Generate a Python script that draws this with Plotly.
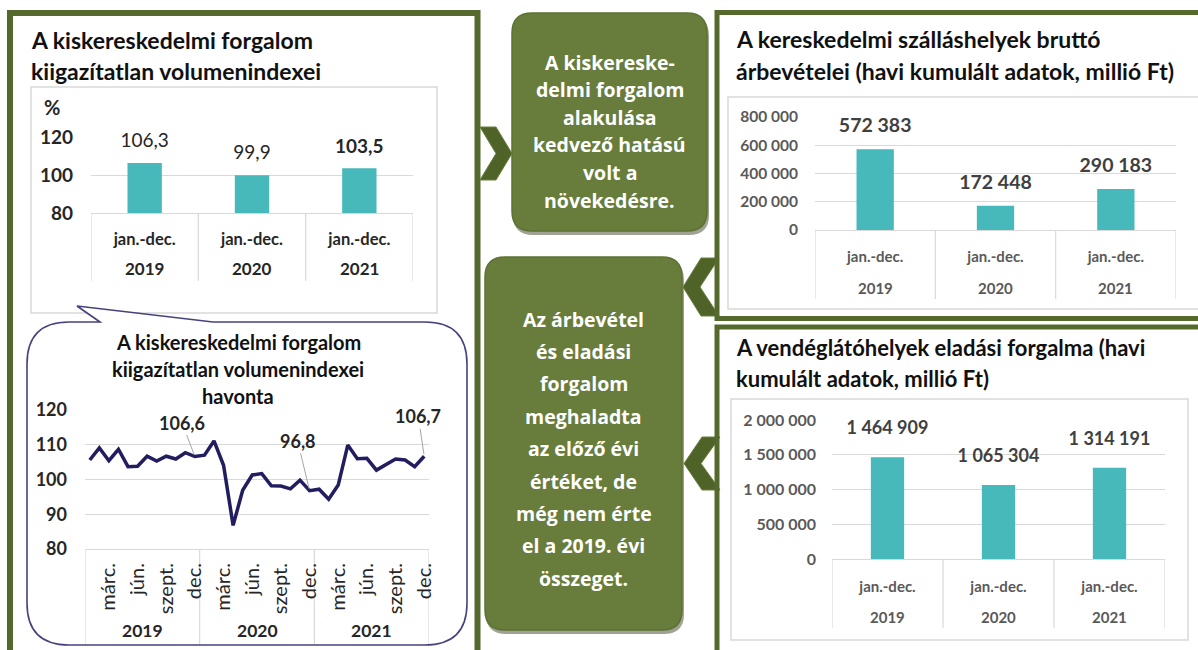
import plotly.graph_objects as go

W, H = 1198, 650

# ---------------- data ----------------
years = ["2019", "2020", "2021"]
period_label = "jan.-dec."
retail_yearly = [106.3, 99.9, 103.5]
retail_yearly_bold = [False, False, True]

month_names = ["márc.", "jún.", "szept.", "dec."]
month_numbers = [3, 6, 9, 12]
retail_2019 = [105.6, 109.1, 105.4, 108.7, 103.7, 103.8, 106.7, 105.3, 106.7, 105.9, 107.7, 106.6]
retail_2020 = [107.0, 111.1, 104.1, 86.8, 96.9, 101.3, 101.7, 98.2, 98.1, 97.3, 99.8, 96.8]
retail_2021 = [97.2, 94.3, 98.4, 109.9, 106.0, 106.1, 102.7, 104.4, 105.9, 105.6, 103.7, 106.7]
labelled_months = [("2019", 12), ("2020", 12), ("2021", 12)]

accommodation = [572383, 172448, 290183]
catering = [1464909, 1065304, 1314191]

title_retail = ["A kiskereskedelmi forgalom", "kiigazítatlan volumenindexei"]
title_monthly = ["A kiskereskedelmi forgalom", "kiigazítatlan volumenindexei", "havonta"]
title_accom = ["A kereskedelmi szálláshelyek bruttó", "árbevételei (havi kumulált adatok, millió Ft)"]
title_catering = ["A vendéglátóhelyek eladási forgalma (havi", "kumulált adatok, millió Ft)"]
box1_lines = ["A kiskereske-", "delmi forgalom", "alakulása", "kedvező hatású", "volt a", "növekedésre."]
box2_lines = ["Az árbevétel", "és eladási", "forgalom", "meghaladta", "az előző évi",
              "értéket, de", "még nem érte", "el a 2019. évi", "összeget."]

# ---------------- style ----------------
GREEN = "#55692c"
BOXFILL = "#687c3c"
TEAL = "#48b9ba"
GRID = "#d9d9d9"
DARK = "#262626"
GRAY = "#595959"
NAVY = "#221d5e"
BUBBLE = "#45427f"
FONT = "Lato, sans-serif"
BOXFONT = "Open Sans, sans-serif"


def px(x):
    return x / W


def py(y):
    return 1 - y / H


def dom_x(a, b):
    return [a / W, b / W]


def dom_y(top, bottom):
    return [1 - bottom / H, 1 - top / H]


def fmt1(v):
    return f"{v:.1f}".replace(".", ",")


def poly_path(pts):
    s = "M " + " L ".join(f"{px(x)},{py(y)}" for x, y in pts)
    return s + " Z"


def rrect_path(x0, y0, x1, y1, r):
    return (f"M {px(x0 + r)},{py(y0)} L {px(x1 - r)},{py(y0)} "
            f"Q {px(x1)},{py(y0)} {px(x1)},{py(y0 + r)} L {px(x1)},{py(y1 - r)} "
            f"Q {px(x1)},{py(y1)} {px(x1 - r)},{py(y1)} L {px(x0 + r)},{py(y1)} "
            f"Q {px(x0)},{py(y1)} {px(x0)},{py(y1 - r)} L {px(x0)},{py(y0 + r)} "
            f"Q {px(x0)},{py(y0)} {px(x0 + r)},{py(y0)} Z")


def bubble_path(x0, y0, x1, y1, r, tail_a, tip, tail_b):
    return (f"M {px(tail_a)},{py(y0)} L {px(tip[0])},{py(tip[1])} L {px(tail_b)},{py(y0)} "
            f"L {px(x1 - r)},{py(y0)} Q {px(x1)},{py(y0)} {px(x1)},{py(y0 + r)} "
            f"L {px(x1)},{py(y1 - r)} Q {px(x1)},{py(y1)} {px(x1 - r)},{py(y1)} "
            f"L {px(x0 + r)},{py(y1)} Q {px(x0)},{py(y1)} {px(x0)},{py(y1 - r)} "
            f"L {px(x0)},{py(y0 + r)} Q {px(x0)},{py(y0)} {px(x0 + r)},{py(y0)} Z")


fig = go.Figure()
idx = list(range(len(years)))

# ---------------- chart 1: yearly retail index ----------------
fig.add_trace(go.Bar(x=idx, y=retail_yearly, width=0.32, marker=dict(color=TEAL, line=dict(width=0)),
                     xaxis="x2", yaxis="y2", hoverinfo="skip"))
fig.add_trace(go.Scatter(
    x=idx, y=retail_yearly, mode="markers+text",
    marker=dict(size=16, color="rgba(0,0,0,0)"),
    text=[(f"<b>{fmt1(v)}</b>" if b else fmt1(v)) for v, b in zip(retail_yearly, retail_yearly_bold)],
    textposition="top center", textfont=dict(family=FONT, size=19, color=DARK),
    cliponaxis=False, xaxis="x2", yaxis="y2", hoverinfo="skip"))

# ---------------- chart 2: monthly retail index ----------------
monthly = retail_2019 + retail_2020 + retail_2021
mx = list(range(len(monthly)))
fig.add_trace(go.Scatter(x=mx, y=monthly, mode="lines", line=dict(color=NAVY, width=3.5),
                         xaxis="x3", yaxis="y3", hoverinfo="skip"))
month_tickvals = [yi * 12 + m - 1 for yi in range(len(years)) for m in month_numbers]
month_ticktext = month_names * len(years)

# ---------------- chart 3: accommodation ----------------
fig.add_trace(go.Bar(x=idx, y=accommodation, width=0.31, marker=dict(color=TEAL, line=dict(width=0)),
                     xaxis="x4", yaxis="y4", hoverinfo="skip"))
fig.add_trace(go.Scatter(
    x=idx, y=accommodation, mode="markers+text",
    marker=dict(size=18, color="rgba(0,0,0,0)"),
    texttemplate="<b>%{y:,d}</b>", textposition="top center",
    textfont=dict(family=FONT, size=19.5, color="#404040"),
    cliponaxis=False, xaxis="x4", yaxis="y4", hoverinfo="skip"))

# ---------------- chart 4: catering ----------------
fig.add_trace(go.Bar(x=idx, y=catering, width=0.30, marker=dict(color=TEAL, line=dict(width=0)),
                     xaxis="x5", yaxis="y5", hoverinfo="skip"))
fig.add_trace(go.Scatter(
    x=idx, y=catering, mode="markers+text",
    marker=dict(size=28, color="rgba(0,0,0,0)"),
    texttemplate="<b>%{y:,d}</b>", textposition="top center",
    textfont=dict(family=FONT, size=18, color="#404040"),
    cliponaxis=False, xaxis="x5", yaxis="y5", hoverinfo="skip"))

# ---------------- shapes ----------------
shapes = []
shapes.append(dict(type="rect", xref="paper", yref="paper", x0=px(10), x1=px(477.5), y0=py(13), y1=py(665),
                   line=dict(color=GREEN, width=6), layer="below"))
shapes.append(dict(type="rect", xref="paper", yref="paper", x0=px(31), x1=px(437), y0=py(87), y1=py(313),
                   line=dict(color=GRID, width=1.5), layer="below"))
shapes.append(dict(type="path", xref="paper", yref="paper",
                   path=bubble_path(27, 322, 467, 645, 42, 100, (77, 306), 213),
                   fillcolor="white", line=dict(color=BUBBLE, width=1.6), layer="below"))
for (x0, y0, x1, y1) in [(512, 13, 707, 231), (485, 257, 682, 630)]:
    shapes.append(dict(type="path", xref="paper", yref="paper", path=rrect_path(x0 + 1, y0 + 3, x1 + 2, y1 + 4, 20),
                       fillcolor="rgba(40,50,20,0.45)", line=dict(width=0), layer="below"))
    shapes.append(dict(type="path", xref="paper", yref="paper", path=rrect_path(x0, y0, x1, y1, 20),
                       fillcolor=BOXFILL, line=dict(color="#5d7132", width=1.5), layer="below"))
for pts in [
    [(480, 127), (496, 127), (512, 153.5), (496, 180), (480, 180), (496, 153.5)],
    [(701, 258), (719, 258), (700, 287), (719, 316), (701, 316), (683, 287)],
    [(702, 437), (720, 437), (701, 463.5), (720, 490), (702, 490), (684, 463.5)],
]:
    shapes.append(dict(type="path", xref="paper", yref="paper", path=poly_path(pts),
                       fillcolor="#4f6228", line=dict(color="#66803a", width=1), layer="below"))
shapes.append(dict(type="rect", xref="paper", yref="paper", x0=px(717), x1=px(1204), y0=py(12.5), y1=py(318.5),
                   line=dict(color=GREEN, width=5), layer="below"))
shapes.append(dict(type="rect", xref="paper", yref="paper", x0=px(717), x1=px(1204), y0=py(327), y1=py(665),
                   line=dict(color=GREEN, width=5), layer="below"))
shapes.append(dict(type="rect", xref="paper", yref="paper", x0=px(728), x1=px(1210), y0=py(97), y1=py(309),
                   line=dict(color=GRID, width=1.5), layer="below"))
shapes.append(dict(type="rect", xref="paper", yref="paper", x0=px(731), x1=px(1188), y0=py(399), y1=py(640),
                   line=dict(color=GRID, width=1.5), layer="below"))

for xr, top, bot, n in [("x2", 213, 281, len(years)), ("x4", 230, 299, len(years)), ("x5", 559, 628, len(years))]:
    for i in range(n + 1):
        shapes.append(dict(type="line", xref=xr, yref="paper", x0=i - 0.5, x1=i - 0.5, y0=py(top), y1=py(bot),
                           line=dict(color=GRID, width=1.2), layer="below"))
for k in range(len(years) + 1):
    xv = k * 12 - 0.5
    shapes.append(dict(type="line", xref="x3", yref="paper", x0=xv, x1=xv, y0=py(549), y1=py(644),
                       line=dict(color=GRID, width=1.2), layer="below"))

# ---------------- annotations ----------------
ann = []


def text(x, y, s, size, color=DARK, bold=True, anchor="left", family=FONT):
    ann.append(dict(xref="paper", yref="paper", x=px(x), y=py(y), text=(f"<b>{s}</b>" if bold else s),
                    showarrow=False, xanchor=anchor, yanchor="middle",
                    font=dict(family=family, size=size, color=color)))


for i, line in enumerate(title_retail):
    text(29, 40 + i * 31, line, 23, color="#111111")
for i, line in enumerate(title_accom):
    text(734, 39 + i * 32, line, 23, color="#111111")
for i, line in enumerate(title_catering):
    text(734, 347 + i * 31.5, line, 22, color="#111111")
for i, line in enumerate(title_monthly):
    text(238, 342 + i * 27, line, 20, color="#111111", anchor="center")
text(52, 107, "%", 20, color=DARK, anchor="center")

for i, line in enumerate(box1_lines):
    text(609.5, 62 + i * 27.6, line, 19.5, color="white", anchor="center", family=BOXFONT)
for i, line in enumerate(box2_lines):
    text(583.5, 319 + i * 32.4, line, 19.5, color="white", anchor="center", family=BOXFONT)

for xr, yrow, size, col in [("x2", 268, 17, DARK), ("x4", 288, 15, GRAY), ("x5", 617, 15, GRAY)]:
    for i, yr in enumerate(years):
        ann.append(dict(xref=xr, yref="paper", x=i, y=py(yrow), text=f"<b>{yr}</b>", showarrow=False,
                        xanchor="center", yanchor="middle", font=dict(family=FONT, size=size, color=col)))
for i, yr in enumerate(years):
    ann.append(dict(xref="x3", yref="paper", x=i * 12 + 5.5, y=py(630), text=f"<b>{yr}</b>", showarrow=False,
                    xanchor="center", yanchor="middle", font=dict(family=FONT, size=17.5, color=DARK)))

leader_offsets = [(-13, -34), (-12, -50), (-6, -40)]
for (yr, m), (oax, oay) in zip(labelled_months, leader_offsets):
    j = years.index(yr) * 12 + m - 1
    ann.append(dict(xref="x3", yref="y3", x=j, y=monthly[j], text=f"<b>{fmt1(monthly[j])}</b>",
                    showarrow=True, arrowhead=0, arrowwidth=1, arrowcolor="#a6a6a6", ax=oax, ay=oay,
                    standoff=2, font=dict(family=FONT, size=18, color=DARK)))

# ---------------- layout ----------------
common_x = dict(showgrid=False, zeroline=False, showline=True, linecolor=GRID, linewidth=1.2,
                ticks="", fixedrange=True, automargin=False)
common_y = dict(showgrid=True, gridcolor=GRID, gridwidth=1.2, zeroline=False, showline=False,
                ticks="", fixedrange=True, automargin=False)

fig.update_layout(
    width=W, height=H, margin=dict(l=0, r=0, t=0, b=0, pad=0, autoexpand=False),
    paper_bgcolor="white", plot_bgcolor="rgba(0,0,0,0)",
    showlegend=False, separators=", ",
    shapes=shapes, annotations=ann,
    xaxis=dict(visible=False, domain=[0, 0.01]),
    yaxis=dict(visible=False, domain=[0, 0.01]),
    xaxis2=dict(domain=dom_x(91, 413), range=[-0.5, 2.5], tickvals=idx, ticktext=[period_label] * len(years),
                tickfont=dict(family=FONT, size=16.5, color=DARK, weight="bold"), ticklabelstandoff=11,
                anchor="y2", **common_x),
    yaxis2=dict(domain=dom_y(137, 213), range=[80, 120], tickvals=[80, 100, 120],
                tickfont=dict(family=FONT, size=19, color=DARK, weight="bold"), ticklabelstandoff=17,
                anchor="x2", **common_y),
    xaxis3=dict(domain=dom_x(85, 429), range=[-0.5, 35.5], tickvals=month_tickvals, ticktext=month_ticktext,
                tickangle=-90, tickfont=dict(family=FONT, size=20, color=DARK), ticklabelstandoff=5,
                anchor="y3", **common_x),
    yaxis3=dict(domain=dom_y(410, 549), range=[80, 120], dtick=10,
                tickfont=dict(family=FONT, size=18, color=DARK, weight="bold"), ticklabelstandoff=17,
                anchor="x3", **common_y),
    xaxis4=dict(domain=dom_x(815, 1176), range=[-0.5, 2.5], tickvals=idx, ticktext=[period_label] * len(years),
                tickfont=dict(family=FONT, size=15, color=GRAY, weight="bold"), ticklabelstandoff=13,
                anchor="y4", **common_x),
    yaxis4=dict(domain=dom_y(117, 230), range=[0, 800000], dtick=200000, tickformat=",d",
                tickfont=dict(family=FONT, size=15.5, color=GRAY, weight="bold"), ticklabelstandoff=16,
                anchor="x4", **common_y),
    xaxis5=dict(domain=dom_x(832, 1165), range=[-0.5, 2.5], tickvals=idx, ticktext=[period_label] * len(years),
                tickfont=dict(family=FONT, size=15, color=GRAY, weight="bold"), ticklabelstandoff=14,
                anchor="y5", **common_x),
    yaxis5=dict(domain=dom_y(420, 559), range=[0, 2000000], dtick=500000, tickformat=",d",
                tickfont=dict(family=FONT, size=16, color=GRAY, weight="bold"), ticklabelstandoff=15,
                anchor="x5", **common_y),
)

fig.write_html("out.html", config={"displayModeBar": False},
               post_script="document.body.style.margin='0';document.body.style.overflow='hidden';")
